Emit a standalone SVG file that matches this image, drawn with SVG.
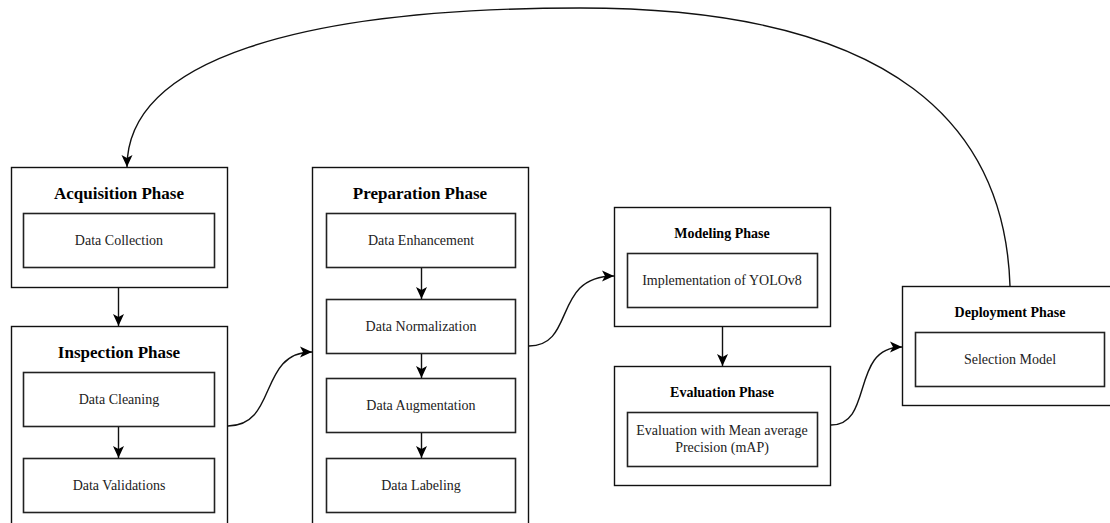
<svg xmlns="http://www.w3.org/2000/svg" width="1110" height="523" viewBox="0 0 1110 523">
<style>
.outer{fill:#fff;stroke:#111;stroke-width:1.4}
.inner{fill:#fff;stroke:#222;stroke-width:1.6}
text{font-family:"Liberation Serif",Tinos,"Times New Roman","DejaVu Serif",serif;text-anchor:middle}
.t1{font-weight:bold;font-size:17px;fill:#000}
.t2{font-weight:bold;font-size:14px;fill:#000}
.tx{font-size:14px;fill:#222}
.c{fill:none;stroke:#111;stroke-width:1.4;marker-end:url(#ah)}
</style>
<defs>
<marker id="ah" markerUnits="userSpaceOnUse" markerWidth="13" markerHeight="13" refX="12" refY="6.5" orient="auto">
<path d="M0,1 L12,6.5 L0,12 L3,6.5 Z" fill="#000"/>
</marker>
</defs>
<rect width="1110" height="523" fill="#fff"/>

<g id="acquisition" font-family="Liberation Serif, serif">
<rect class="outer" x="11.5" y="167.5" width="216" height="120"/>
<text class="t1" x="119" y="199">Acquisition Phase</text>
<rect class="inner" x="23.5" y="213.5" width="191" height="54"/>
<text class="tx" x="119" y="245">Data Collection</text>
</g>

<g id="inspection">
<rect class="outer" x="11.5" y="326.5" width="216" height="210"/>
<text class="t1" x="119" y="358">Inspection Phase</text>
<rect class="inner" x="23.5" y="372.5" width="191" height="54"/>
<text class="tx" x="119" y="404">Data Cleaning</text>
<rect class="inner" x="23.5" y="458.5" width="191" height="54"/>
<text class="tx" x="119" y="490">Data Validations</text>
</g>

<g id="preparation">
<rect class="outer" x="312.5" y="167.5" width="216" height="370"/>
<text class="t1" x="420" y="199">Preparation Phase</text>
<rect class="inner" x="326.5" y="213.5" width="189" height="54"/>
<text class="tx" x="421" y="245">Data Enhancement</text>
<rect class="inner" x="326.5" y="299.5" width="189" height="54"/>
<text class="tx" x="421" y="331">Data Normalization</text>
<rect class="inner" x="326.5" y="378.5" width="189" height="54"/>
<text class="tx" x="421" y="410">Data Augmentation</text>
<rect class="inner" x="326.5" y="458.5" width="189" height="54"/>
<text class="tx" x="421" y="490">Data Labeling</text>
</g>

<g id="modeling">
<rect class="outer" x="614.5" y="207.5" width="216" height="119"/>
<text class="t2" x="722" y="238">Modeling Phase</text>
<rect class="inner" x="627.5" y="253.5" width="190" height="54"/>
<text class="tx" x="722" y="285">Implementation of YOLOv8</text>
</g>

<g id="evaluation">
<rect class="outer" x="614.5" y="366.5" width="216" height="119"/>
<text class="t2" x="722" y="397">Evaluation Phase</text>
<rect class="inner" x="627.5" y="412.5" width="190" height="54"/>
<text class="tx" x="722" y="435">Evaluation with Mean average</text>
<text class="tx" x="722" y="452">Precision (mAP)</text>
</g>

<g id="deployment">
<rect class="outer" x="902.5" y="286.5" width="216" height="119"/>
<text class="t2" x="1010" y="317">Deployment Phase</text>
<rect class="inner" x="915.5" y="332.5" width="189" height="54"/>
<text class="tx" x="1010" y="364">Selection Model</text>
</g>

<g id="connectors">
<path class="c" d="M118.5,288 L118.5,326"/>
<path class="c" d="M118.5,427 L118.5,458"/>
<path class="c" d="M421.5,268 L421.5,299"/>
<path class="c" d="M421.5,354 L421.5,378"/>
<path class="c" d="M421.5,433 L421.5,458"/>
<path class="c" d="M722.5,327 L722.5,366"/>
<path class="c" d="M228,426 C278,426 258,352 312,352"/>
<path class="c" d="M529,346 C576,346 552,276 614,276"/>
<path class="c" d="M831,425 C874,425 850,347 902,347"/>
<path class="c" d="M1010,286 C1005,130 900,8 580,8 C300,8 127,60 127,167"/>
</g>
</svg>
